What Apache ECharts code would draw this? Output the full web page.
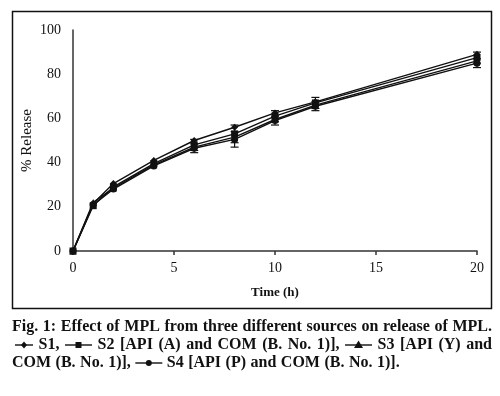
<!DOCTYPE html>
<html>
<head>
<meta charset="utf-8">
<script src="https://cdn.jsdelivr.net/npm/echarts@6/dist/echarts.min.js"></script>
<style>
  html, body { margin: 0; padding: 0; background: #fff; }
  #chart { width: 500px; height: 396px; }
</style>
</head>
<body>
<div id="chart"></div>
<script>
// time points (h)
const times = [0, 1, 2, 4, 6, 8, 10, 12, 20]

// % release per formulation
const s1 = [0, 21.5, 30.5, 41, 50, 56, 62.5, 67.5, 89]
const s2 = [0, 20.5, 29, 39.5, 48, 53, 61, 67, 87.5]
const s3 = [0, 22, 28.5, 39, 47, 51.5, 59.5, 66, 86]
const s4 = [0, 21, 28, 38.5, 46.5, 50.5, 59, 65.5, 85]

// standard deviations (error bars)
const errS2 = [0, 0, 0, 0, 2.5, 4, 2.5, 2.5, 2.5]
const errS4 = [0, 0, 0, 0, 2, 3.5, 2, 2, 2]

const seriesNames = ['S1', 'S2', 'S3', 'S4']
const seriesSymbols = ['diamond', 'rect', 'triangle', 'circle']

// caption text
const captionLine1 = 'Fig. 1: Effect of MPL from three different sources on release of MPL.'
const captionLine2 = [{ key: 0 }, 'S1,', { key: 1 }, 'S2 [API (A) and COM (B. No. 1)],', { key: 2 }, 'S3 [API (Y) and']
const captionLine3 = ['COM (B. No. 1)],', { key: 3 }, 'S4 [API (P) and COM (B. No. 1)].']

const serif = '"Liberation Serif", "DejaVu Serif", serif'
const capFont = 'bold 16px ' + serif
const ink = '#111'

function pairs(vals) {
  return times.map((t, i) => [t, vals[i]])
}

function errData(vals, errs) {
  return times.map((t, i) => [t, vals[i], errs[i]]).filter(d => d[2] > 0)
}

function renderErr(params, api) {
  const x = api.value(0)
  const y = api.value(1)
  const e = api.value(2)
  const top = api.coord([x, y + e])
  const bot = api.coord([x, y - e])
  const w = 4
  const style = { stroke: ink, lineWidth: 1.2 }
  return {
    type: 'group',
    children: [
      { type: 'line', shape: { x1: top[0], y1: top[1], x2: bot[0], y2: bot[1] }, style },
      { type: 'line', shape: { x1: top[0] - w, y1: top[1], x2: top[0] + w, y2: top[1] }, style },
      { type: 'line', shape: { x1: bot[0] - w, y1: bot[1], x2: bot[0] + w, y2: bot[1] }, style }
    ]
  }
}

const lineSeries = [s1, s2, s3, s4].map((vals, i) => ({
  name: seriesNames[i],
  type: 'line',
  data: pairs(vals),
  symbol: seriesSymbols[i],
  symbolSize: 7,
  showAllSymbol: true,
  itemStyle: { color: ink },
  lineStyle: { color: ink, width: 1.4 },
  z: 3
}))

const errSeries = [[s2, errS2], [s4, errS4]].map(([vals, errs]) => ({
  type: 'custom',
  renderItem: renderErr,
  data: errData(vals, errs),
  z: 2
}))

// --- caption layout (justified like the printed figure) ---
const measureCtx = document.createElement('canvas').getContext('2d')
measureCtx.font = capFont

function keyLen(i) {
  return i === 0 ? 18 : 27
}

function keyGraphic(i, x, y) {
  const len = keyLen(i)
  const cx = x + len / 2
  const children = [
    { type: 'line', shape: { x1: x, y1: y, x2: x + len, y2: y }, style: { stroke: ink, lineWidth: 1.4 } }
  ]
  const st = { fill: ink }
  if (seriesSymbols[i] === 'diamond') {
    children.push({ type: 'polygon', shape: { points: [[cx, y - 3.5], [cx + 3, y], [cx, y + 3.5], [cx - 3, y]] }, style: st })
  } else if (seriesSymbols[i] === 'rect') {
    children.push({ type: 'rect', shape: { x: cx - 3, y: y - 3, width: 6, height: 6 }, style: st })
  } else if (seriesSymbols[i] === 'triangle') {
    children.push({ type: 'polygon', shape: { points: [[cx, y - 4.5], [cx + 4.5, y + 3], [cx - 4.5, y + 3]] }, style: st })
  } else {
    children.push({ type: 'circle', shape: { cx, cy: y, r: 3 }, style: st })
  }
  return { type: 'group', children }
}

function tokenize(parts) {
  const out = []
  parts.forEach(p => {
    if (typeof p === 'string') p.split(' ').forEach(w => out.push(w))
    else out.push(p)
  })
  return out
}

function layoutLine(parts, x0, x1, y, justify) {
  const tokens = tokenize(parts)
  const widths = tokens.map(t => typeof t === 'string' ? measureCtx.measureText(t).width : keyLen(t.key))
  const sum = widths.reduce((a, b) => a + b, 0)
  const gap = justify ? (x1 - x0 - sum) / (tokens.length - 1) : 4.5
  const els = []
  let x = x0
  tokens.forEach((t, i) => {
    if (typeof t === 'string') {
      els.push({ type: 'text', x, y, style: { text: t, font: capFont, fill: ink, textVerticalAlign: 'middle' } })
    } else {
      els.push(keyGraphic(t.key, x, y))
    }
    x += widths[i] + gap
  })
  return els
}

const captionEls = [
  ...layoutLine([captionLine1], 12, 492, 327, true),
  ...layoutLine(captionLine2, 15, 492, 345, true),
  ...layoutLine(captionLine3, 12, 492, 363, false)
]

const chart = echarts.init(document.getElementById('chart'), null, { renderer: 'canvas' })

chart.setOption({
  backgroundColor: '#fff',
  animation: false,
  grid: { left: 73, right: 23, top: 30, bottom: 145 },
  xAxis: {
    type: 'value',
    min: 0,
    max: 20,
    interval: 5,
    name: 'Time (h)',
    nameLocation: 'middle',
    nameGap: 35,
    nameMoveOverlap: false,
    nameTextStyle: { fontFamily: serif, fontSize: 13, fontWeight: 'bold', color: ink },
    axisLine: { onZero: false, lineStyle: { color: '#333', width: 1.5 } },
    axisTick: { show: true, length: 4, lineStyle: { color: '#333', width: 1.5 } },
    axisLabel: { fontFamily: serif, fontSize: 14, color: ink, margin: 10 },
    splitLine: { show: false }
  },
  yAxis: {
    type: 'value',
    min: 0,
    max: 100,
    interval: 20,
    name: '% Release',
    nameLocation: 'middle',
    nameGap: 38,
    nameMoveOverlap: false,
    nameTextStyle: { fontFamily: serif, fontSize: 15, color: ink },
    axisLine: { show: true, lineStyle: { color: '#333', width: 1.5 } },
    axisTick: { show: false },
    axisLabel: { fontFamily: serif, fontSize: 14, color: ink, margin: 12 },
    splitLine: { show: false }
  },
  series: [...lineSeries, ...errSeries],
  graphic: [
    {
      type: 'rect',
      shape: { x: 12.5, y: 11.5, width: 479, height: 297 },
      style: { fill: 'none', stroke: ink, lineWidth: 1.5 },
      silent: true
    },
    ...captionEls
  ]
})
</script>
</body>
</html>
